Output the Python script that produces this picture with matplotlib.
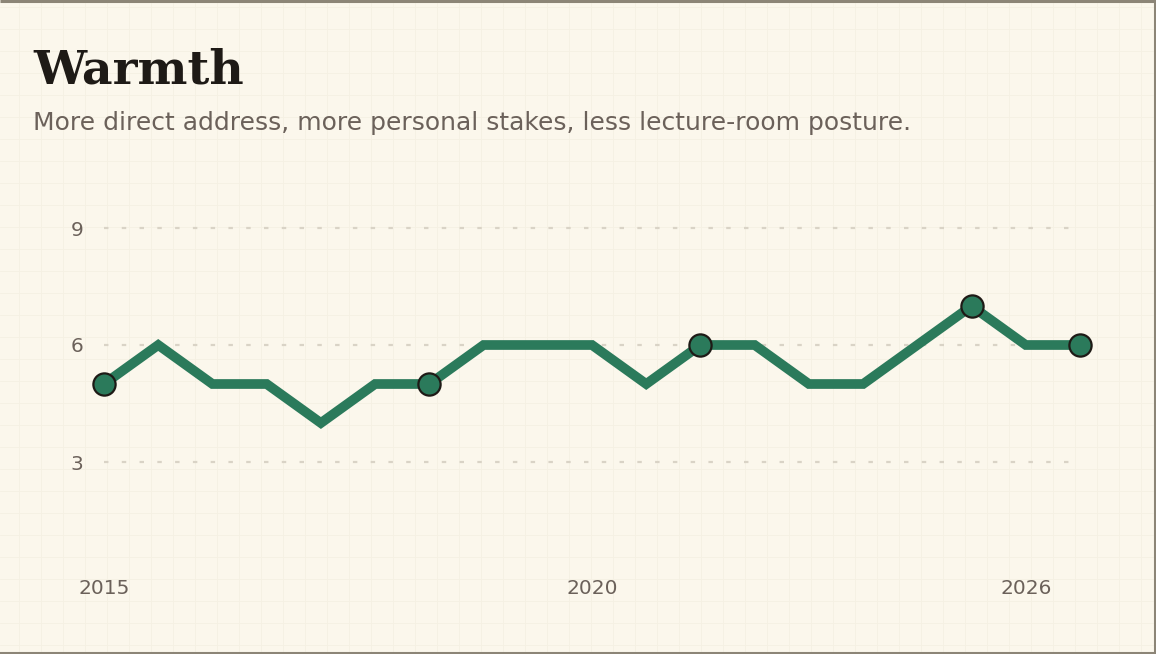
import matplotlib.pyplot as plt
import numpy as np

# data
periods = ['2015', '', '', '', '', '', '', '', '', '2020', '', '', '', '', '', '', '', '2026', '']
warmth = [5, 6, 5, 5, 4, 5, 5, 6, 6, 6, 5, 6, 6, 5, 5, 6, 7, 6, 6]
highlight = [0, 6, 11, 16, 18]
y_ticks = [3, 6, 9]

bg = '#fbf7ec'
green = '#2b7a5b'
ink = '#1e1a16'
muted = '#6b615a'

W, H = 1156, 654
fig = plt.figure(figsize=(W / 100, H / 100), dpi=100)
fig.patch.set_facecolor(bg)

# faint paper grid behind everything
bgax = fig.add_axes([0, 0, 1, 1], zorder=-5)
bgax.set_xlim(0, W)
bgax.set_ylim(H, 0)
bgax.axis('off')
for gx in np.arange(19, W, 22):
    bgax.axvline(gx, color='#f5f0e3', lw=0.6)
for gy in np.arange(7, H, 22):
    bgax.axhline(gy, color='#f5f0e3', lw=0.6)
# frame
bgax.plot([0, W - 1.5], [1, 1], color='#8c8577', lw=2.2, solid_capstyle='butt')
bgax.plot([W - 1.5, W - 1.5], [0, H], color='#8c8577', lw=2.2)
bgax.plot([0, W - 1.5], [H - 1.5, H - 1.5], color='#8c8577', lw=2.2)

# main axes: x index 0 at 104px, index 18 at 1080px, y=0 at 579px, y=10 at 189px
left_px, right_px = 104, 1080
ax = fig.add_axes([left_px / W, (H - 579) / H, (right_px - left_px) / W, 390 / H])
ax.set_facecolor('none')
ax.set_xlim(0, 18)
ax.set_ylim(0, 10)

x = np.arange(len(warmth))
ax.hlines(y_ticks, 0, 17.9, color='#d9d3c6', lw=1.6, ls=(0, (2, 6)), zorder=1)

ax.plot(x, warmth, color=green, lw=7, solid_joinstyle='miter', zorder=3, clip_on=False)
ax.plot(x[highlight], [warmth[i] for i in highlight], 'o', ms=16, mfc=green, mec=ink, mew=1.6,
        zorder=4, clip_on=False)

for s in ax.spines.values():
    s.set_visible(False)
ax.set_yticks(y_ticks)
ax.set_yticklabels([str(v) for v in y_ticks], fontsize=14.5, color=muted, family='DejaVu Sans')
ax.set_xticks(x)
ax.set_xticklabels(periods, fontsize=14.5, color=muted, family='DejaVu Sans')
ax.tick_params(axis='y', length=0, pad=15)
ax.tick_params(axis='x', length=0, pad=0)

fig.text(33 / W, 1 - 84 / H, 'Warmth', fontsize=34, fontweight='bold', color=ink,
         family='DejaVu Serif', va='baseline')
fig.text(33 / W, 1 - 130 / H, 'More direct address, more personal stakes, less lecture-room posture.',
         fontsize=18, color=muted, family='DejaVu Sans', va='baseline')

fig.savefig('out.png', dpi=100, facecolor=bg)
